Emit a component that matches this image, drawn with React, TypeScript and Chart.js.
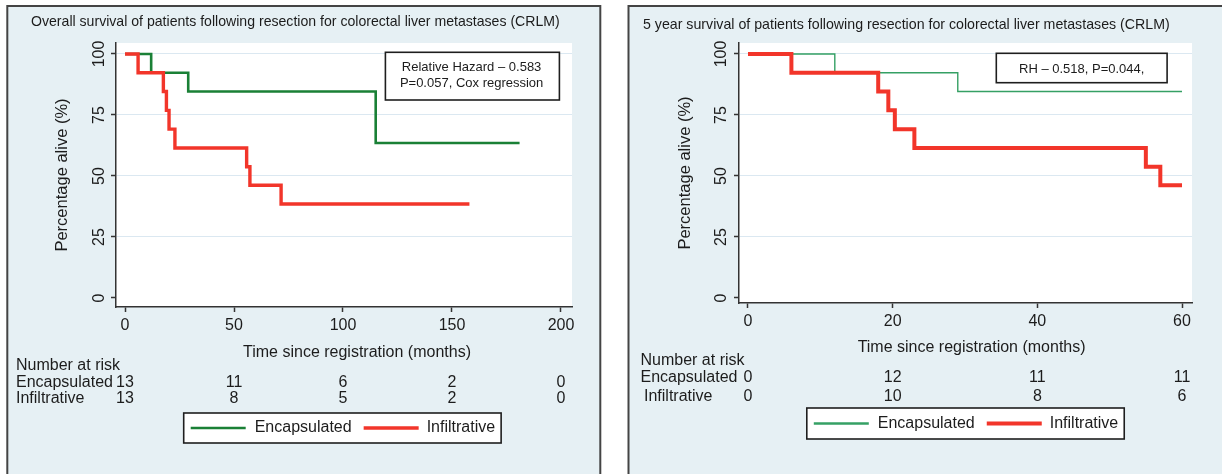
import React, { useEffect, useRef } from "react";
import { Chart, registerables } from "chart.js";

Chart.register(...registerables);

// ---------- DATA ----------
// Left panel: overall survival
const overallEncTimes = [0, 12, 29, 115, 181];
const overallEncSurv = [100, 92.3, 84.6, 63.5, 63.5];
const overallInfTimes = [0, 6, 17.6, 19, 20.2, 22.9, 55.8, 57.3, 71.6, 158];
const overallInfSurv = [100, 92.3, 84.6, 76.9, 69.2, 61.5, 53.8, 46.2, 38.5, 38.5];
const overallXTicks = [0, 50, 100, 150, 200];
const overallRiskEnc = [13, 11, 6, 2, 0];
const overallRiskInf = [13, 8, 5, 2, 0];

// Right panel: 5 year survival
const fiveEncTimes = [0, 12, 29, 60];
const fiveEncSurv = [100, 92.3, 84.6, 84.6];
const fiveInfTimes = [0, 6, 18, 19.4, 20.3, 23, 55, 57, 60];
const fiveInfSurv = [100, 92.3, 84.6, 76.9, 69.2, 61.5, 53.8, 46.2, 46.2];
const fiveXTicks = [0, 20, 40, 60];
const fiveRiskEnc = [0, 12, 11, 11];
const fiveRiskInf = [0, 10, 8, 6];

const yTicks = [0, 25, 50, 75, 100];
const seriesLabels = ["Encapsulated", "Infiltrative"];

const overallTitle =
  "Overall survival of patients following resection for colorectal liver metastases (CRLM)";
const fiveTitle =
  "5 year survival of patients following resection for colorectal liver metastases (CRLM)";
const overallNote = ["Relative Hazard \u2013 0.583", "P=0.057, Cox regression"];
const fiveNote = ["RH \u2013 0.518, P=0.044,"];
const xAxisTitle = "Time since registration (months)";
const yAxisTitle = "Percentage alive (%)";
const riskHeader = "Number at risk";

// ---------- STYLE ----------
const FONT = "'Liberation Sans', Arial, Helvetica, sans-serif";
const TEXT = "#1c1c1c";
const RED = "#f2352a";
const PANEL_BG = "#e6f0f4";
const GRID = "#dbe8f1";
const AXIS = "#333333";
const H = 474;

type Cfg = {
  left: number;
  width: number;
  area: { l: number; r: number; t: number; b: number };
  xMin: number;
  xMax: number;
  yMin: number;
  yMax: number;
  xTicks: number[];
  enc: { t: number[]; s: number[] };
  inf: { t: number[]; s: number[] };
  riskRows: number[][];
  panel: { x: number; y: number; w: number; h: number };
  title: { text: string; x: number; y: number; w: number };
  xTitle: { cx: number; y: number };
  yTitleOffset: number;
  yLabelOffset: number;
  risk: { headerX: number; headerY: number; rowY: number[]; labelX: number[] };
  legend: { x: number; y: number; h: number };
  note: { lines: string[]; x: number; y: number; w: number; h: number; lineY: number[]; cx: number };
  encColor: string;
  encWidth: number;
  infWidth: number;
  legendEncWidth: number;
  legendInfWidth: number;
};

const leftCfg: Cfg = {
  left: 0,
  width: 612,
  area: { l: 116, r: 572, t: 43, b: 307 },
  xMin: -4.13,
  xMax: 205.05,
  yMin: -3.69,
  yMax: 104.5,
  xTicks: overallXTicks,
  enc: { t: overallEncTimes, s: overallEncSurv },
  inf: { t: overallInfTimes, s: overallInfSurv },
  riskRows: [overallRiskEnc, overallRiskInf],
  panel: { x: 7.3, y: 6, w: 593, h: 520 },
  title: { text: overallTitle, x: 31, y: 22, w: 529 },
  xTitle: { cx: 357, y: 353 },
  yTitleOffset: 54,
  yLabelOffset: 16,
  risk: { headerX: 16, headerY: 366, rowY: [382.7, 399], labelX: [16, 16] },
  legend: { x: 183.7, y: 413, h: 30 },
  note: { lines: overallNote, x: 385.4, y: 52.3, w: 174, h: 47.7, lineY: [67.3, 83.3], cx: 471.6 },
  encColor: "#1a8036",
  encWidth: 2.6,
  infWidth: 3.4,
  legendEncWidth: 2.6,
  legendInfWidth: 3.6,
};

const rightCfg: Cfg = {
  left: 612,
  width: 610,
  area: { l: 127, r: 580, t: 43, b: 303 },
  xMin: -1.244,
  xMax: 61.38,
  yMin: -2.05,
  yMax: 104.5,
  xTicks: fiveXTicks,
  enc: { t: fiveEncTimes, s: fiveEncSurv },
  inf: { t: fiveInfTimes, s: fiveInfSurv },
  riskRows: [fiveRiskEnc, fiveRiskInf],
  panel: { x: 16.5, y: 6, w: 700, h: 520 },
  title: { text: fiveTitle, x: 31, y: 25.5, w: 527 },
  xTitle: { cx: 359.6, y: 348 },
  yTitleOffset: 54,
  yLabelOffset: 17,
  risk: { headerX: 28.5, headerY: 361, rowY: [378, 396.7], labelX: [28.5, 32] },
  legend: { x: 194.8, y: 408, h: 31 },
  note: { lines: fiveNote, x: 384.3, y: 53.3, w: 170.8, h: 29.4, lineY: [69], cx: 469.7 },
  encColor: "#35a064",
  encWidth: 1.4,
  infWidth: 4,
  legendEncWidth: 2.6,
  legendInfWidth: 4,
};

function fitSize(ctx: CanvasRenderingContext2D, text: string, target: number) {
  ctx.font = `100px ${FONT}`;
  return (100 * target) / ctx.measureText(text).width;
}

function makePlugin(cfg: Cfg) {
  return {
    id: "kmPanel",
    beforeDraw(chart: any) {
      const ctx: CanvasRenderingContext2D = chart.ctx;
      const a = chart.chartArea;
      ctx.save();
      ctx.fillStyle = PANEL_BG;
      ctx.fillRect(cfg.panel.x, cfg.panel.y, cfg.panel.w, cfg.panel.h);
      ctx.strokeStyle = "#444444";
      ctx.lineWidth = 2;
      ctx.strokeRect(cfg.panel.x, cfg.panel.y, cfg.panel.w, cfg.panel.h);
      ctx.fillStyle = "#ffffff";
      ctx.fillRect(a.left, a.top, a.right - a.left, a.bottom - a.top);
      ctx.restore();
    },
    afterDraw(chart: any) {
      const ctx: CanvasRenderingContext2D = chart.ctx;
      const a = chart.chartArea;
      const xs = chart.scales.x;
      const ys = chart.scales.y;
      ctx.save();
      ctx.fillStyle = TEXT;
      ctx.textBaseline = "middle";

      // title
      const ts = fitSize(ctx, cfg.title.text, cfg.title.w);
      ctx.font = `${ts}px ${FONT}`;
      ctx.textAlign = "left";
      ctx.fillText(cfg.title.text, cfg.title.x, cfg.title.y);

      // y tick labels (vertical)
      ctx.font = `16px ${FONT}`;
      ctx.textAlign = "center";
      for (const v of yTicks) {
        const y = ys.getPixelForValue(v);
        ctx.save();
        ctx.translate(a.left - cfg.yLabelOffset, y);
        ctx.rotate(-Math.PI / 2);
        ctx.fillText(String(v), 0, 0);
        ctx.restore();
      }

      // y title
      ctx.save();
      ctx.font = `16.5px ${FONT}`;
      ctx.translate(a.left - cfg.yTitleOffset, (a.top + a.bottom) / 2);
      ctx.rotate(-Math.PI / 2);
      ctx.fillText(yAxisTitle, 0, 0);
      ctx.restore();

      // x title
      ctx.fillText(xAxisTitle, cfg.xTitle.cx, cfg.xTitle.y);

      // number at risk table
      ctx.textAlign = "left";
      ctx.fillText(riskHeader, cfg.risk.headerX, cfg.risk.headerY);
      cfg.riskRows.forEach((row, r) => {
        ctx.textAlign = "left";
        ctx.fillText(seriesLabels[r], cfg.risk.labelX[r], cfg.risk.rowY[r]);
        ctx.textAlign = "center";
        row.forEach((n, i) => {
          ctx.fillText(String(n), xs.getPixelForValue(cfg.xTicks[i]), cfg.risk.rowY[r]);
        });
      });

      // legend
      const lg = cfg.legend;
      const w0 = ctx.measureText(seriesLabels[0]).width;
      const w1 = ctx.measureText(seriesLabels[1]).width;
      const boxW = 7 + 55 + 9 + w0 + 12 + 55 + 8 + w1 + 6;
      const cy = lg.y + lg.h / 2;
      ctx.fillStyle = "#ffffff";
      ctx.fillRect(lg.x, lg.y, boxW, lg.h);
      ctx.strokeStyle = "#1e1e1e";
      ctx.lineWidth = 1.6;
      ctx.strokeRect(lg.x, lg.y, boxW, lg.h);
      let x = lg.x + 7;
      ctx.strokeStyle = cfg.encColor;
      ctx.lineWidth = cfg.legendEncWidth;
      ctx.beginPath();
      ctx.moveTo(x, cy);
      ctx.lineTo(x + 55, cy);
      ctx.stroke();
      x += 55 + 9;
      ctx.fillStyle = TEXT;
      ctx.textAlign = "left";
      ctx.fillText(seriesLabels[0], x, cy);
      x += w0 + 12;
      ctx.strokeStyle = RED;
      ctx.lineWidth = cfg.legendInfWidth;
      ctx.beginPath();
      ctx.moveTo(x, cy);
      ctx.lineTo(x + 55, cy);
      ctx.stroke();
      x += 55 + 8;
      ctx.fillText(seriesLabels[1], x, cy);

      // annotation box
      const nt = cfg.note;
      ctx.fillStyle = "#ffffff";
      ctx.fillRect(nt.x, nt.y, nt.w, nt.h);
      ctx.strokeStyle = "#1e1e1e";
      ctx.lineWidth = 1.6;
      ctx.strokeRect(nt.x, nt.y, nt.w, nt.h);
      ctx.fillStyle = TEXT;
      ctx.font = `13px ${FONT}`;
      ctx.textAlign = "center";
      nt.lines.forEach((ln, i) => ctx.fillText(ln, nt.cx, nt.lineY[i]));

      ctx.restore();
    },
  };
}

function KMPanel({ cfg }: { cfg: Cfg }) {
  const ref = useRef<HTMLCanvasElement>(null);
  useEffect(() => {
    const a = cfg.area;
    const yW = 40;
    const xH = 30;
    const chart = new Chart(ref.current as HTMLCanvasElement, {
      type: "line",
      data: {
        datasets: [
          {
            label: seriesLabels[1],
            data: cfg.inf.t.map((t, i) => ({ x: t, y: cfg.inf.s[i] })),
            borderColor: RED,
            borderWidth: cfg.infWidth,
            stepped: true,
            fill: false,
            pointRadius: 0,
            borderJoinStyle: "miter",
          },
          {
            label: seriesLabels[0],
            data: cfg.enc.t.map((t, i) => ({ x: t, y: cfg.enc.s[i] })),
            borderColor: cfg.encColor,
            borderWidth: cfg.encWidth,
            stepped: true,
            fill: false,
            pointRadius: 0,
            borderJoinStyle: "miter",
          },
        ],
      } as any,
      options: {
        animation: false,
        responsive: false,
        maintainAspectRatio: false,
        layout: {
          padding: {
            left: a.l - yW,
            right: cfg.width - a.r,
            top: a.t,
            bottom: H - a.b - xH,
          },
        },
        plugins: {
          legend: { display: false },
          tooltip: { enabled: false },
          title: { display: false },
        },
        scales: {
          x: {
            type: "linear",
            min: cfg.xMin,
            max: cfg.xMax,
            afterBuildTicks: (s: any) => {
              s.ticks = cfg.xTicks.map((v) => ({ value: v }));
            },
            afterFit: (s: any) => {
              s.height = xH;
            },
            grid: {
              drawOnChartArea: false,
              drawTicks: true,
              tickLength: 5,
              tickColor: AXIS,
              tickWidth: 1.5,
            },
            border: { display: true, color: AXIS, width: 1.5 },
            ticks: {
              font: { family: FONT, size: 16 },
              color: TEXT,
              padding: 4,
              maxRotation: 0,
              minRotation: 0,
              autoSkip: false,
              callback: (v: any) => String(v),
            },
          },
          y: {
            type: "linear",
            min: cfg.yMin,
            max: cfg.yMax,
            afterBuildTicks: (s: any) => {
              s.ticks = yTicks.map((v) => ({ value: v }));
            },
            afterFit: (s: any) => {
              s.width = yW;
            },
            grid: {
              color: (c: any) => (c.tick && c.tick.value === 0 ? "rgba(0,0,0,0)" : GRID),
              lineWidth: 1,
              drawTicks: true,
              tickLength: 5,
              tickColor: AXIS,
              tickWidth: 1.5,
            },
            border: { display: true, color: AXIS, width: 1.5 },
            ticks: { display: false },
          },
        },
      } as any,
      plugins: [makePlugin(cfg) as any],
    });
    return () => chart.destroy();
  }, [cfg]);
  return (
    <canvas
      ref={ref}
      width={cfg.width}
      height={H}
      style={{ position: "absolute", left: cfg.left, top: 0, width: cfg.width, height: H }}
    />
  );
}

export default function App() {
  return (
    <div
      style={{
        position: "absolute",
        left: 0,
        top: 0,
        width: 1222,
        height: H,
        background: "#ffffff",
        overflow: "hidden",
      }}
    >
      <KMPanel cfg={leftCfg} />
      <KMPanel cfg={rightCfg} />
    </div>
  );
}
